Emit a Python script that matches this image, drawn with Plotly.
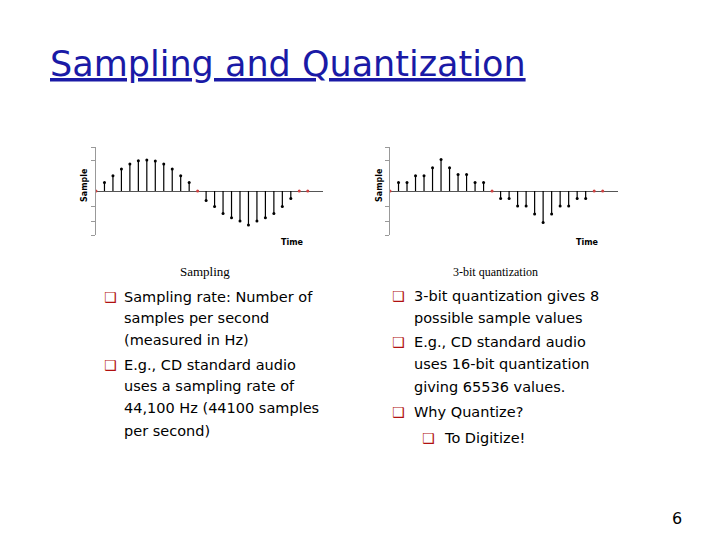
import plotly.graph_objects as go

# sample values (units: tick steps)
t = list(range(26))
sampled = [0, 0.56, 1.02, 1.47, 1.8, 2.02, 2.07, 2.0, 1.8, 1.47, 1.02, 0.56, 0,
           -0.64, -1.04, -1.49, -1.78, -2.0, -2.27, -2.0, -1.78, -1.49, -1.04, -0.5, 0, 0]
quantized = [0, 0.56, 0.56, 1.02, 1.02, 1.55, 2.1, 1.55, 1.1, 1.1, 0.56, 0.56, 0,
             -0.5, -0.5, -1.0, -1.0, -1.53, -2.1, -1.53, -1.0, -1.0, -0.5, -0.5, 0, 0]

captions = ["Sampling", "3-bit quantization"]
left_bullets = [
    ("❑", "Sampling rate: Number of", 297), ("", "samples per second", 318),
    ("", "(measured in Hz)", 340), ("❑", "E.g., CD standard audio", 365),
    ("", "uses a sampling rate of", 386), ("", "44,100 Hz (44100 samples", 408),
    ("", "per second)", 431),
]
right_bullets = [
    ("❑", "3-bit quantization gives 8", 296, 0), ("", "possible sample values", 318, 0),
    ("❑", "E.g., CD standard audio", 342, 0), ("", "uses 16-bit quantization", 364, 0),
    ("", "giving 65536 values.", 387, 0), ("❑", "Why Quantize?", 412, 0),
    ("❑", "To Digitize!", 438, 1),
]

W, H = 720, 540
OFF = 8  # page margin offset
fig = go.Figure()


def stems(vals, xa, ya):
    xs, ys = [], []
    for i, v in zip(t, vals):
        if v != 0:
            xs += [i, i, None]
            ys += [0, v, None]
    fig.add_trace(go.Scatter(x=xs, y=ys, mode="lines", line=dict(color="black", width=1.2),
                             xaxis=xa, yaxis=ya, showlegend=False, hoverinfo="skip"))
    fig.add_trace(go.Scatter(x=t, y=vals, mode="markers",
                             marker=dict(size=3, color=["#d04040" if v == 0 else "black" for v in vals]),
                             xaxis=xa, yaxis=ya, showlegend=False))


stems(sampled, "x", "y")
stems(quantized, "x2", "y2")


def px(x):
    return (x - OFF) / W


def py(y):
    return 1 - (y - OFF) / H


ax = dict(range=[0, 26.8], showgrid=False, zeroline=False, showticklabels=False,
          showline=False)
ay = dict(range=[-2.93, 2.93], showgrid=False, zeroline=True, zerolinecolor="#555",
          zerolinewidth=1, showline=True, linecolor="#999", linewidth=1,
          ticks="outside", ticklen=4, tickcolor="#999", tickvals=[-2.93, -2, -1, 2, 2.93],
          showticklabels=False)

fig.update_layout(
    width=W, height=H, plot_bgcolor="white", paper_bgcolor="white",
    margin=dict(l=0, r=0, t=0, b=0),
    xaxis=dict(ax, domain=[px(96), px(323)]),
    yaxis=dict(ay, domain=[py(235), py(147)]),
    xaxis2=dict(ax, domain=[px(390), px(618)]),
    yaxis2=dict(ay, domain=[py(235), py(147)], anchor="x2"),
)
fig.update_layout(xaxis2_anchor="y2")

ann = []


def txt(x, y, s, size, color="black", family="DejaVu Sans", anchor="left", **kw):
    ann.append(dict(x=px(x), y=py(y), xref="paper", yref="paper", text=s, showarrow=False,
                    xanchor=anchor, yanchor="middle", font=dict(size=size, color=color, family=family), **kw))


txt(48, 64, "<u>Sampling and Quantization</u>", 35, color="#1a1aa6")
for ox in (0, 295):
    txt(292 + ox, 242, "<b>Time</b>", 8, anchor="center")
    txt(85 + ox, 185, "<b>Sample</b>", 8, anchor="center", textangle=-90)
txt(205, 271, captions[0], 13, family="Liberation Serif", anchor="center")
txt(495, 272, captions[1], 12, family="Liberation Serif", anchor="center")
for b, s, y in left_bullets:
    if b:
        txt(102, y, b, 14, color="#b01010")
    txt(122, y, s, 14.5)
for b, s, y, lvl in right_bullets:
    if b:
        txt(390 + lvl * 30, y, b, 14, color="#b01010")
    txt(412 + lvl * 30, y, s, 14.5)
txt(677, 518, "6", 16, anchor="center")
fig.update_layout(annotations=ann)

fig.write_html("out.html")
